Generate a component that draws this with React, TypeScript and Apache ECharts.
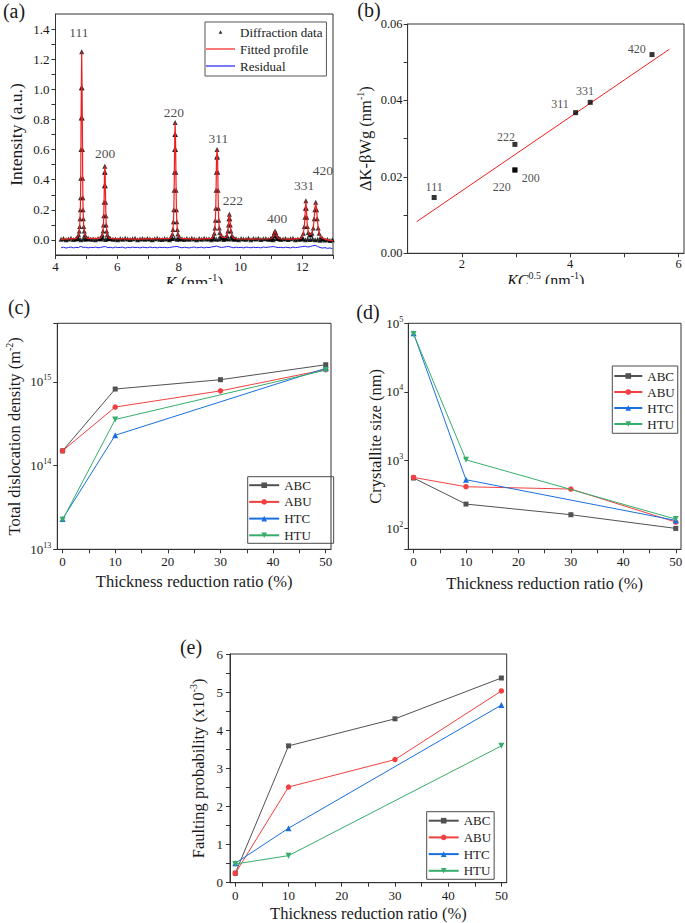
import React, { useEffect, useRef } from "react";
import * as echarts from "echarts";

const FONT = "Liberation Serif, Times New Roman, serif";
const INK = "#1a1a1a";
const AXIS = "#333333";

// ---------- (a) diffraction pattern ----------
const kStart = 4.18;
const kStep = 0.08;
const baselineI = [
  0.004, 0.009, 0.002, 0.007, 0.011, 0.003, 0.006, 0.010, 0.001, 0.008,
  0.005, 0.012, 0.004, 0.007, 0.002, 0.009, 0.006, 0.011, 0.003, 0.008,
  0.010, 0.004, 0.007, 0.001, 0.009, 0.005, 0.012, 0.006, 0.003, 0.008,
  0.011, 0.002, 0.007, 0.010, 0.004, 0.009, 0.006, 0.001, 0.008, 0.012,
  0.005, 0.003, 0.010, 0.007, 0.002, 0.009, 0.011, 0.004, 0.006, 0.008,
  0.003, 0.010, 0.005, 0.012, 0.007, 0.001, 0.009, 0.004, 0.011, 0.006,
  0.008, 0.002, 0.010, 0.005, 0.007, 0.012, 0.003, 0.009, 0.006, 0.011,
  0.004, 0.008, 0.001, 0.010, 0.007, 0.005, 0.012, 0.002, 0.009, 0.006,
  0.011, 0.003, 0.008, 0.010, 0.004, 0.007, 0.002, 0.009, 0.012, 0.005,
  0.006, 0.010, 0.003, 0.008, 0.011, 0.001, 0.007, 0.004, 0.009, 0.002,
  0.006, 0.003, 0.008, 0.001, 0.005, -0.002, 0.004, 0.000, 0.003, -0.003, 0.001,
];
const residualI = [
  -0.052, -0.048, -0.054, -0.050, -0.047, -0.053, -0.049, -0.051, -0.043, -0.050,
  -0.048, -0.053, -0.049, -0.051, -0.047, -0.052, -0.050, -0.046, -0.044, -0.051,
  -0.049, -0.053, -0.047, -0.051, -0.050, -0.048, -0.054, -0.049, -0.052, -0.047,
  -0.051, -0.049, -0.053, -0.048, -0.050, -0.052, -0.047, -0.051, -0.049, -0.053,
  -0.048, -0.051, -0.049, -0.052, -0.050, -0.047, -0.045, -0.043, -0.049, -0.052,
  -0.048, -0.051, -0.053, -0.049, -0.047, -0.052, -0.050, -0.048, -0.053, -0.049,
  -0.051, -0.047, -0.044, -0.041, -0.046, -0.050, -0.048, -0.045, -0.043, -0.049,
  -0.052, -0.048, -0.051, -0.049, -0.053, -0.047, -0.050, -0.052, -0.048, -0.051,
  -0.049, -0.053, -0.047, -0.050, -0.048, -0.046, -0.044, -0.047, -0.051, -0.049,
  -0.052, -0.048, -0.050, -0.053, -0.047, -0.051, -0.049, -0.046, -0.044, -0.042,
  -0.047, -0.044, -0.039, -0.036, -0.043, -0.050, -0.054, -0.051, -0.056, -0.053, -0.058,
];
const peak111 = [
  [4.68, 0.01], [4.72, 0.02], [4.75, 0.035], [4.77, 0.06], [4.785, 0.09], [4.795, 0.14],
  [4.805, 0.2], [4.812, 0.28], [4.818, 0.41], [4.824, 0.6], [4.83, 0.81], [4.838, 1.01],
  [4.85, 1.25], [4.862, 1.01], [4.87, 0.81], [4.876, 0.6], [4.882, 0.41], [4.888, 0.28],
  [4.895, 0.2], [4.905, 0.14], [4.915, 0.09], [4.93, 0.06], [4.95, 0.035], [4.98, 0.02], [5.02, 0.01],
];
const peak200 = [
  [5.45, 0.01], [5.49, 0.02], [5.52, 0.035], [5.54, 0.06], [5.555, 0.1], [5.565, 0.16],
  [5.575, 0.25], [5.583, 0.36], [5.59, 0.45], [5.6, 0.49], [5.61, 0.45], [5.617, 0.36],
  [5.625, 0.25], [5.635, 0.16], [5.645, 0.1], [5.66, 0.06], [5.68, 0.035], [5.71, 0.02], [5.75, 0.01],
];
const peak220 = [
  [7.72, 0.01], [7.76, 0.02], [7.79, 0.04], [7.81, 0.07], [7.825, 0.12], [7.838, 0.2],
  [7.848, 0.33], [7.855, 0.45], [7.862, 0.6], [7.87, 0.7], [7.88, 0.78], [7.89, 0.7],
  [7.898, 0.6], [7.905, 0.45], [7.912, 0.33], [7.922, 0.2], [7.935, 0.12], [7.95, 0.07],
  [7.97, 0.04], [8.0, 0.02], [8.04, 0.01],
];
const peak311 = [
  [9.08, 0.01], [9.12, 0.025], [9.15, 0.045], [9.17, 0.08], [9.185, 0.13], [9.198, 0.21],
  [9.208, 0.33], [9.216, 0.45], [9.224, 0.55], [9.24, 0.6], [9.256, 0.55], [9.264, 0.45],
  [9.272, 0.33], [9.282, 0.21], [9.295, 0.13], [9.31, 0.08], [9.33, 0.05], [9.36, 0.03],
  [9.4, 0.02], [9.46, 0.015],
];
const peak222 = [
  [9.52, 0.015], [9.56, 0.03], [9.59, 0.06], [9.61, 0.1], [9.625, 0.14], [9.64, 0.17],
  [9.655, 0.14], [9.67, 0.1], [9.69, 0.06], [9.72, 0.03], [9.76, 0.015], [9.82, 0.008],
];
const peak400 = [
  [10.98, 0.008], [11.03, 0.015], [11.07, 0.03], [11.095, 0.048], [11.12, 0.06],
  [11.145, 0.048], [11.17, 0.03], [11.21, 0.015], [11.26, 0.008],
];
const peak331 = [
  [11.96, 0.01], [12.0, 0.02], [12.04, 0.045], [12.07, 0.09], [12.09, 0.15], [12.105, 0.21],
  [12.12, 0.26], [12.135, 0.21], [12.15, 0.15], [12.17, 0.09], [12.2, 0.05], [12.24, 0.035], [12.28, 0.035],
];
const peak420 = [
  [12.32, 0.045], [12.36, 0.08], [12.39, 0.14], [12.41, 0.2], [12.44, 0.25], [12.47, 0.2],
  [12.49, 0.14], [12.52, 0.08], [12.55, 0.045], [12.6, 0.02], [12.66, 0.01],
];
const fitAnchors = [[4.18, 0.004], [6.6, 0.005], [8.6, 0.005], [10.4, 0.006], [11.6, 0.006], [12.9, -0.003], [13.0, -0.004]];
const peakNames = ["111", "200", "220", "311", "222", "400", "331", "420"];
const peakLabelK = [4.76, 5.61, 7.84, 9.28, 9.75, 11.19, 12.06, 12.67];
const peakLabelI = [1.378, 0.575, 0.849, 0.674, 0.26, 0.142, 0.361, 0.463];
const aXTicks = [4, 5, 6, 7, 8, 9, 10, 11, 12, 13];
const aXLabels = [4, 6, 8, 10, 12];
const aYTicks = [0, 0.1, 0.2, 0.3, 0.4, 0.5, 0.6, 0.7, 0.8, 0.9, 1.0, 1.1, 1.2, 1.3, 1.4];
const aYLabels = [0, 0.2, 0.4, 0.6, 0.8, 1.0, 1.2, 1.4];

// ---------- (b) Williamson-Hall ----------
const bPlanes = ["111", "222", "220", "200", "311", "331", "420"];
const bX = [1.49, 2.98, 2.98, 2.98, 4.1, 4.37, 5.51];
const bY = [0.0146, 0.0285, 0.0218, 0.0218, 0.0368, 0.0395, 0.052];
const bLabelX = [1.49, 2.816, 2.737, 3.272, 3.813, 4.274, 5.229];
const bLabelY = [0.01727, 0.0305, 0.01743, 0.0197, 0.039, 0.04255, 0.0534];
const bFitX = [1.17, 5.83];
const bFitY = [0.0083, 0.0534];
const bXTicks = [2, 3, 4, 5, 6];
const bXLabels = [2, 4, 6];
const bYTicks = [0, 0.01, 0.02, 0.03, 0.04, 0.05, 0.06];
const bYLabels = [0, 0.02, 0.04, 0.06];

// ---------- (c)-(e) vs thickness reduction ----------
const reduction = [0, 10, 30, 50];
const samples = ["ABC", "ABU", "HTC", "HTU"];
const sampleColors = ["#515151", "#F14040", "#1A6FDF", "#37AD6B"];
const sampleSymbols = ["rect", "circle", "triangle", "triangle"];
const sampleRotate = [0, 0, 0, 180];
const sampleSize = [5, 5.5, 6, 6];

const dislABC = [1.5e14, 8.2e14, 1.06e15, 1.6e15];
const dislABU = [1.5e14, 5.0e14, 7.8e14, 1.4e15];
const dislHTC = [2.3e13, 2.3e14, null, 1.45e15];
const dislHTU = [2.25e13, 3.55e14, null, 1.38e15];

const sizeABC = [550, 229, 160, 101];
const sizeABU = [561, 410, 379, 125];
const sizeHTC = [71500, 519, null, 132];
const sizeHTU = [69800, 1014, null, 138];

const faultABC = [0.25, 3.59, 4.3, 5.37];
const faultABU = [0.245, 2.51, 3.23, 5.03];
const faultHTC = [0.51, 1.43, null, 4.66];
const faultHTU = [0.49, 0.71, null, 3.59];

const trendXTicks = [0, 5, 10, 15, 20, 25, 30, 35, 40, 45, 50];
const trendXLabels = [0, 10, 20, 30, 40, 50];
const eYTicks = [0, 0.5, 1, 1.5, 2, 2.5, 3, 3.5, 4, 4.5, 5, 5.5, 6];
const eYLabels = [0, 1, 2, 3, 4, 5, 6];

// ---------- helpers ----------
function rich(base: number) {
  const s = Math.round(base * 0.62);
  return {
    n: { fontFamily: FONT, fontSize: base, color: INK },
    i: { fontFamily: FONT, fontSize: base, color: INK, fontStyle: "italic" },
    s: { fontFamily: FONT, fontSize: s, color: INK, padding: [0, 0, Math.round(base * 0.62), 0] },
  };
}

function axisBase(labelSize: number, nameSize: number) {
  return {
    nameLocation: "middle",
    nameMoveOverlap: false,
    nameTextStyle: { fontFamily: FONT, fontSize: nameSize, color: INK, rich: rich(nameSize) },
    axisLine: { show: true, onZero: false, lineStyle: { color: AXIS, width: 1 } },
    axisTick: { show: true, length: 4, lineStyle: { color: AXIS, width: 1 } },
    axisLabel: { fontFamily: FONT, fontSize: labelSize, color: INK, rich: rich(labelSize) },
    splitLine: { show: false },
  };
}

function withTicks(base: any, ticks?: number[], labels?: number[], extra: any = {}) {
  return {
    ...base,
    axisTick: ticks ? { ...base.axisTick, customValues: ticks } : base.axisTick,
    axisLabel: { ...base.axisLabel, ...(labels ? { customValues: labels } : {}), ...extra },
  };
}

function gridBox(left: number, top: number, width: number, height: number) {
  return {
    left, top, width, height, show: true, borderColor: AXIS, borderWidth: 1,
    backgroundColor: "transparent", containLabel: false, outerBoundsMode: "none",
  };
}

function panelLabel(text: string, x: number, y: number) {
  return {
    type: "text", x, y, z: 10, silent: true,
    style: { text, fontFamily: FONT, fontSize: 20, fill: INK, align: "center", verticalAlign: "middle" },
  };
}

const pow10Label = (v: number) => {
  const e = Math.log10(v);
  return Math.abs(e - Math.round(e)) < 1e-6 ? `{n|10}{s|${Math.round(e)}}` : "";
};

const pairs = (vals: (number | null)[]) =>
  reduction.flatMap((x, i) => (vals[i] == null ? [] : [[x, vals[i] as number]]));

function trendSeries(valueSets: (number | null)[][]) {
  return valueSets.map((vals, i) => ({
    type: "line",
    name: samples[i],
    data: pairs(vals),
    symbol: sampleSymbols[i],
    symbolRotate: sampleRotate[i],
    symbolSize: sampleSize[i],
    lineStyle: { color: sampleColors[i], width: 1 },
    itemStyle: { color: sampleColors[i] },
    emphasis: { disabled: true },
    z: 2 + i,
  }));
}

function trendLegend(left: number, top: number, padding: number[], itemGap: number, itemWidth: number) {
  return {
    data: samples, orient: "vertical", left, top, padding, itemGap, itemWidth, itemHeight: 7,
    borderColor: "#4a4a4a", borderWidth: 1, selectedMode: false,
    textStyle: { fontFamily: FONT, fontSize: 13, color: INK },
  };
}

// ---------- options ----------
const diffData = [
  ...baselineI.map((v, i) => [kStart + i * kStep, v]),
  ...peak111, ...peak200, ...peak220, ...peak311, ...peak222, ...peak400, ...peak331, ...peak420,
];
const fitProfile = [
  ...fitAnchors, ...peak111, ...peak200, ...peak220, ...peak311, ...peak222, ...peak400, ...peak331, ...peak420,
].sort((p, q) => p[0] - q[0]);
const residual = residualI.map((v, i) => [kStart + i * kStep, v]);

const optA: any = {
  animation: false,
  textStyle: { fontFamily: FONT },
  grid: gridBox(55.5, 14, 277.5, 241),
  xAxis: {
    ...withTicks(axisBase(13, 17), aXTicks, aXLabels, { margin: 5 }),
    type: "value", min: 4, max: 13,
    name: "{i|K} (nm{s|-1})", nameGap: 16,
  },
  yAxis: {
    ...withTicks(axisBase(13, 17.5), aYTicks, aYLabels, { margin: 6, formatter: (v: number) => v.toFixed(1) }),
    type: "value", min: -0.1, max: 1.5,
    name: "Intensity (a.u.)", nameGap: 31,
  },
  legend: {
    orient: "vertical", left: 205, top: 22, padding: [3.5, 4, 3.5, 1], itemGap: 4,
    itemWidth: 29, itemHeight: 12, borderColor: "#555", borderWidth: 1, selectedMode: false,
    textStyle: { fontFamily: FONT, fontSize: 13, color: INK },
    itemStyle: { borderWidth: 0 },
    data: [
      { name: "Diffraction data", icon: "path://M0,0L0.01,0M29,12L29.01,12M14.5,4.3L16.4,7.8L12.6,7.8Z" },
      { name: "Fitted profile", icon: "path://M0,5.4L29,5.4L29,6.6L0,6.6Z" },
      { name: "Residual", icon: "path://M0,5.4L29,5.4L29,6.6L0,6.6Z" },
    ],
  },
  graphic: [panelLabel("(a)", 14, 11)],
  series: [
    {
      type: "scatter", name: "Diffraction data", data: diffData, symbol: "triangle", symbolSize: 5,
      itemStyle: { color: "#000" }, z: 2, silent: true,
    },
    {
      type: "line", name: "Fitted profile", data: fitProfile, symbol: "none", showSymbol: false,
      lineStyle: { color: "#f01e1e", width: 1.2 }, itemStyle: { color: "#f01e1e" }, z: 3, silent: true,
    },
    {
      type: "line", name: "Residual", data: residual, symbol: "none", showSymbol: false,
      lineStyle: { color: "#2020f0", width: 1 }, itemStyle: { color: "#2020f0" }, z: 3, silent: true,
    },
    {
      type: "scatter", name: "peak labels", symbolSize: 0, silent: true, z: 4,
      data: peakNames.map((n, i) => ({ name: n, value: [peakLabelK[i], peakLabelI[i]] })),
      label: { show: true, position: "inside", formatter: "{b}", fontFamily: FONT, fontSize: 13.5, color: INK },
    },
  ],
};

const optB: any = {
  animation: false,
  textStyle: { fontFamily: FONT },
  grid: gridBox(67.6, 24, 276.4, 229.3),
  xAxis: {
    ...withTicks(axisBase(12.5, 16), bXTicks, bXLabels, { margin: 4 }),
    type: "value", min: 1, max: 6.1,
    name: "{i|KC}{s|0.5} (nm{s|-1})", nameGap: 17,
  },
  yAxis: {
    ...withTicks(axisBase(12.5, 16.5), bYTicks, bYLabels, { margin: 5, formatter: (v: number) => v.toFixed(2) }),
    type: "value", min: 0, max: 0.06,
    name: "ΔK-βWg (nm{s|-1})", nameGap: 32,
  },
  graphic: [panelLabel("(b)", 29, 10)],
  series: [
    {
      type: "line", name: "fit", data: bFitX.map((x, i) => [x, bFitY[i]]), symbol: "none",
      lineStyle: { color: "#f01e1e", width: 1 }, silent: true, z: 2,
    },
    {
      type: "scatter", name: "points", data: bX.map((x, i) => [x, bY[i]]), symbol: "rect", symbolSize: 5,
      itemStyle: { color: "#000" }, silent: true, z: 3,
    },
    {
      type: "scatter", name: "labels", symbolSize: 0, silent: true, z: 4,
      data: bPlanes.map((n, i) => ({ name: n, value: [bLabelX[i], bLabelY[i]] })),
      label: { show: true, position: "inside", formatter: "{b}", fontFamily: FONT, fontSize: 12, color: INK },
    },
  ],
};

function trendX() {
  return {
    ...withTicks(axisBase(13, 16.5), trendXTicks, trendXLabels, { margin: 6 }),
    type: "value", min: -1, max: 51,
    name: "Thickness reduction ratio (%)",
  };
}

const optC: any = {
  animation: false,
  textStyle: { fontFamily: FONT },
  grid: gridBox(57.3, 33.3, 273.7, 226),
  xAxis: { ...trendX(), nameGap: 24 },
  yAxis: {
    ...withTicks(axisBase(13, 16.5), undefined, undefined, { margin: 6, formatter: pow10Label }),
    type: "log", logBase: 10, min: 1e13, max: 5e15,
    name: "Total dislocation density (m{s|-2})", nameGap: 33,
  },
  legend: trendLegend(247.7, 186.7, [2, 22, 1.5, 0.5], 3.7, 30),
  graphic: [panelLabel("(c)", 19, 17)],
  series: trendSeries([dislABC, dislABU, dislHTC, dislHTU]),
};

const optD: any = {
  animation: false,
  textStyle: { fontFamily: FONT },
  grid: gridBox(68.3, 33.3, 272.7, 226),
  xAxis: { ...trendX(), nameGap: 26 },
  yAxis: {
    ...withTicks(axisBase(13, 16.5), undefined, undefined, { margin: 5, formatter: pow10Label }),
    type: "log", logBase: 10, min: 50, max: 100000,
    name: "Crystallite size (nm)", nameGap: 24,
  },
  legend: trendLegend(272.3, 76, [3.5, 3, 2.8, 1], 3, 28),
  graphic: [panelLabel("(d)", 28, 22)],
  series: trendSeries([sizeABC, sizeABU, sizeHTC, sizeHTU]),
};

const optE: any = {
  animation: false,
  textStyle: { fontFamily: FONT },
  grid: gridBox(230, 54, 276.7, 228.7),
  xAxis: { ...trendX(), nameGap: 22 },
  yAxis: {
    ...withTicks(axisBase(13, 16.5), eYTicks, eYLabels, { margin: 7 }),
    type: "value", min: 0, max: 6,
    name: "Faulting probability (x10{s|-3})", nameGap: 22,
  },
  legend: trendLegend(426.7, 211.7, [2.5, 3, 2, 1], 3.7, 30),
  graphic: [panelLabel("(e)", 191, 47)],
  series: trendSeries([faultABC, faultABU, faultHTC, faultHTU]),
};

function Panel({ option, box }: { option: any; box: { left: number; top: number; width: number; height: number } }) {
  const ref = useRef<HTMLDivElement>(null);
  useEffect(() => {
    if (!ref.current) return;
    const chart = echarts.init(ref.current, null, { renderer: "svg" });
    chart.setOption(option);
    return () => chart.dispose();
  }, [option]);
  return <div ref={ref} style={{ position: "absolute", ...box }} />;
}

export default function App() {
  return (
    <div style={{ position: "fixed", left: 0, top: 0, width: 685, height: 923, background: "#fff", overflow: "hidden" }}>
      <Panel option={optA} box={{ left: 0, top: 0, width: 340, height: 284 }} />
      <Panel option={optB} box={{ left: 340, top: 0, width: 345, height: 284 }} />
      <Panel option={optC} box={{ left: 0, top: 290, width: 340, height: 310 }} />
      <Panel option={optD} box={{ left: 340, top: 290, width: 345, height: 310 }} />
      <Panel option={optE} box={{ left: 0, top: 600, width: 685, height: 323 }} />
    </div>
  );
}
